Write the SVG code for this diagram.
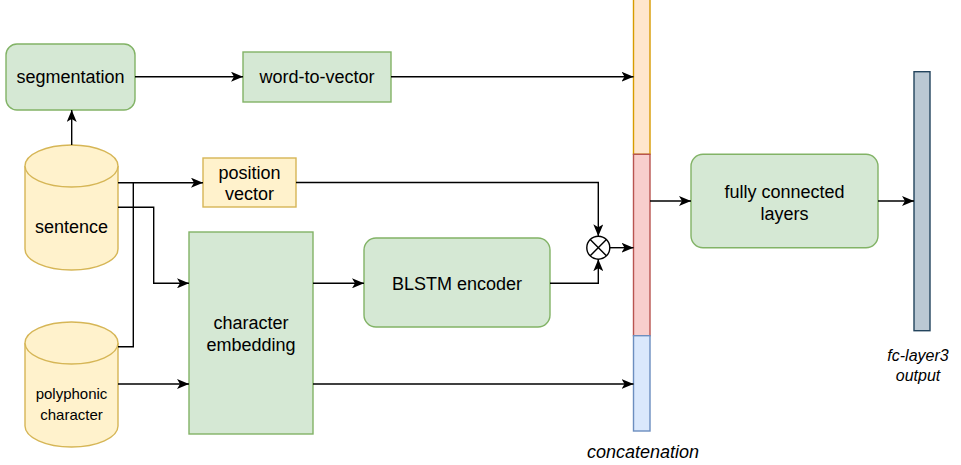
<svg xmlns="http://www.w3.org/2000/svg" width="961" height="465" viewBox="0 0 961 465">
<style>
text{font-family:"Liberation Sans",Arial,Helvetica,sans-serif;font-size:18px;fill:#000;text-anchor:middle}
.it{font-style:italic}
.green{fill:#d5e8d4;stroke:#82b366;stroke-width:1.4}
.yellow{fill:#fff2cc;stroke:#d6b656;stroke-width:1.4}
.edge{fill:none;stroke:#000;stroke-width:1.4}
</style>
<defs>
<marker id="arr" viewBox="0 0 12 10" refX="12" refY="5" markerWidth="12" markerHeight="10" orient="auto" markerUnits="userSpaceOnUse">
<path d="M0,0 L12,5 L0,10 L3,5 Z" fill="#000"/>
</marker>
</defs>
<rect width="961" height="465" fill="#fff"/>

<g id="segmentation">
<rect class="green" x="6" y="44" width="129" height="66" rx="11"/>
<text x="70.5" y="83">segmentation</text>
</g>
<g id="word-to-vector">
<rect class="green" x="243" y="52" width="148" height="50"/>
<text x="317" y="83">word-to-vector</text>
</g>
<g id="sentence">
<path class="yellow" d="M25,166 A46.5,21 0 0 1 118,166 L118,249 A46.5,21 0 0 1 25,249 Z"/>
<path class="yellow" d="M25,166 A46.5,21 0 0 0 118,166" fill="none"/>
<text x="71.5" y="233">sentence</text>
</g>
<g id="polyphonic-character">
<path class="yellow" d="M25,343 A46.5,21 0 0 1 118,343 L118,426 A46.5,21 0 0 1 25,426 Z"/>
<path class="yellow" d="M25,343 A46.5,21 0 0 0 118,343" fill="none"/>
<text x="71.5" y="399" style="font-size:15px">polyphonic</text>
<text x="71.5" y="420" style="font-size:15px">character</text>
</g>
<g id="position-vector">
<rect class="yellow" x="203" y="158" width="93" height="49"/>
<text x="249.5" y="179">position</text>
<text x="249.5" y="200">vector</text>
</g>
<g id="character-embedding">
<rect class="green" x="189" y="232" width="124" height="202"/>
<text x="251" y="329">character</text>
<text x="251" y="351">embedding</text>
</g>
<g id="blstm-encoder">
<rect class="green" x="364" y="238" width="186" height="89" rx="12"/>
<text x="457" y="290">BLSTM encoder</text>
</g>
<g id="multiply">
<circle cx="598.3" cy="247.7" r="11.5" fill="#fff" stroke="#000" stroke-width="1.4"/>
<path d="M590.2,239.6 L606.4,255.8 M606.4,239.6 L590.2,255.8" stroke="#000" stroke-width="1.4"/>
</g>
<g id="concatenation">
<rect x="633.5" y="-2" width="16.5" height="156.3" fill="#ffe6cc" stroke="#d79b00" stroke-width="1.4"/>
<rect x="633.5" y="154.3" width="16.5" height="181.4" fill="#f8cecc" stroke="#b85450" stroke-width="1.4"/>
<rect x="633.5" y="335.7" width="16.5" height="95.3" fill="#dae8fc" stroke="#6c8ebf" stroke-width="1.4"/>
<text class="it" x="643" y="458">concatenation</text>
</g>
<g id="fully-connected-layers">
<rect class="green" x="691" y="154.3" width="187" height="93.4" rx="12"/>
<text x="784.5" y="198">fully connected</text>
<text x="784.5" y="220">layers</text>
</g>
<g id="fc-layer3-output">
<rect x="914" y="71.7" width="16" height="259" fill="#bac8d3" stroke="#23445d" stroke-width="1.4"/>
<text class="it" x="918" y="361" style="font-size:16px">fc-layer3</text>
<text class="it" x="918" y="381" style="font-size:16px">output</text>
</g>

<g id="connectors">
<path class="edge" d="M71.7,145 L71.7,110" marker-end="url(#arr)"/>
<path class="edge" d="M135,76.7 L243,76.7" marker-end="url(#arr)"/>
<path class="edge" d="M391,76.7 L633.5,76.7" marker-end="url(#arr)"/>
<path class="edge" d="M118,182.7 L203,182.7" marker-end="url(#arr)"/>
<path class="edge" d="M118,346.7 L133.3,346.7 L133.3,182.7"/>
<path class="edge" d="M118,207.3 L153.7,207.3 L153.7,283.3 L189,283.3" marker-end="url(#arr)"/>
<path class="edge" d="M118,384 L189,384" marker-end="url(#arr)"/>
<path class="edge" d="M313,283.3 L364,283.3" marker-end="url(#arr)"/>
<path class="edge" d="M296,182.5 L598.3,182.5 L598.3,236.2" marker-end="url(#arr)"/>
<path class="edge" d="M550,283.3 L598.3,283.3 L598.3,259.2" marker-end="url(#arr)"/>
<path class="edge" d="M609.8,247.7 L633.5,247.7" marker-end="url(#arr)"/>
<path class="edge" d="M313,384 L633.5,384" marker-end="url(#arr)"/>
<path class="edge" d="M650,201 L691,201" marker-end="url(#arr)"/>
<path class="edge" d="M878,201 L914,201" marker-end="url(#arr)"/>
</g>
</svg>
